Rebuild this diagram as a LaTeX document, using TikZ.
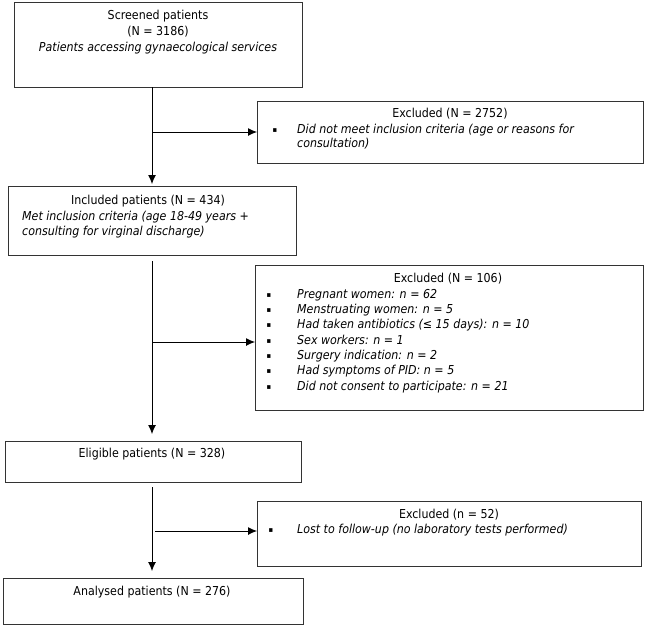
\documentclass[tikz,border=0pt]{standalone}
\usepackage{fontspec}
\setmainfont{DejaVu Sans Condensed}
\usetikzlibrary{arrows.meta}
\begin{document}
\begin{tikzpicture}[x=1pt,y=-1pt,
  box/.style={draw=black!80, line width=1.1pt, rectangle, inner sep=0pt, anchor=north west},
  txt/.style={inner sep=0pt, font=\fontsize{12.3}{15}\selectfont},
  it/.style={txt, font=\fontsize{12.3}{15}\selectfont\itshape},
  bul/.style={inner sep=0pt, anchor=mid, yshift=1.5pt, font=\fontsize{7.5}{8}\selectfont},
  arr/.style={draw=black, line width=0.9pt, -{Latex[length=9pt,width=8pt]}},
  ln/.style={draw=black, line width=0.9pt}]
\useasboundingbox (0,0) rectangle (645,627);
% boxes
\node[box, minimum width=288pt, minimum height=85pt] (screened) at (14,2) {};
\node[box, minimum width=386pt, minimum height=62pt] (exc1) at (257,101) {};
\node[box, minimum width=288pt, minimum height=69pt] (included) at (8,186) {};
\node[box, minimum width=388pt, minimum height=145pt] (exc2) at (255,265) {};
\node[box, minimum width=296pt, minimum height=41pt] (eligible) at (5,441) {};
\node[box, minimum width=384pt, minimum height=65pt] (exc3) at (257,501) {};
\node[box, minimum width=300pt, minimum height=46pt] (analysed) at (3,578) {};
% texts
\node[txt, anchor=mid] (t1a) at (158,17) {Screened patients};
\node[txt, anchor=mid] (t1b) at (158,33) {(N = 3186)};
\node[it, anchor=mid] (t1c) at (158,49) {Patients accessing gynaecological services};

\node[txt, anchor=mid] (t2a) at (450,115) {Excluded (N = 2752)};
\node[bul] (b2) at (275,131) {\char"25AA};
\node[it, anchor=mid west] (t2b) at (297,131) {Did not meet inclusion criteria (age or reasons for};
\node[it, anchor=mid west] (t2c) at (297,145) {consultation)};

\node[txt, anchor=mid] (t3a) at (148,202) {Included patients (N = 434)};
\node[it, anchor=mid west] (t3b) at (22,218) {Met inclusion criteria (age 18-49 years +};
\node[it, anchor=mid west] (t3c) at (22,233) {consulting for virginal discharge)};

\node[txt, anchor=mid] (t4) at (448,280) {Excluded (N = 106)};
\foreach \y/\t [count=\i] in {296/{Pregnant women: n = 62},
  311/{Menstruating women: n = 5},
  326/{Had taken antibiotics (≤ 15 days): n = 10},
  342/{Sex workers: n = 1},
  357/{Surgery indication: n = 2},
  372/{Had symptoms of PID: n = 5},
  388/{Did not consent to participate: n = 21}}{
  \node[bul] (b4\i) at (269,\y) {\char"25AA};
  \node[it, anchor=mid west] (t4\i) at (297,\y) {\t};
}

\node[txt, anchor=mid] (t5) at (152,455) {Eligible patients (N = 328)};

\node[txt, anchor=mid] (t6a) at (449,516) {Excluded (n = 52)};
\node[bul] (b6) at (271,531) {\char"25AA};
\node[it, anchor=mid west] (t6b) at (297,531) {Lost to follow-up (no laboratory tests performed)};

\node[txt, anchor=mid] (t7) at (152,593) {Analysed patients (N = 276)};

% connector coordinates
\coordinate (s1) at (152,87);
\coordinate (e1) at (152,184);
\coordinate (h1) at (152,132);
\coordinate (s2) at (152,261);
\coordinate (e2) at (152,434);
\coordinate (h2) at (152,342);
\coordinate (s3) at (152,487);
\coordinate (e3) at (152,571);
\coordinate (h3) at (155,531);
% connectors
\draw[arr] (s1) -- (e1);
\draw[arr] (h1) -- (h1 -| exc1.west);
\draw[arr] (s2) -- (e2);
\draw[arr] (h2) -- (h2 -| exc2.west);
\draw[arr] (s3) -- (e3);
\draw[arr] (h3) -- (h3 -| exc3.west);
\end{tikzpicture}
\end{document}
